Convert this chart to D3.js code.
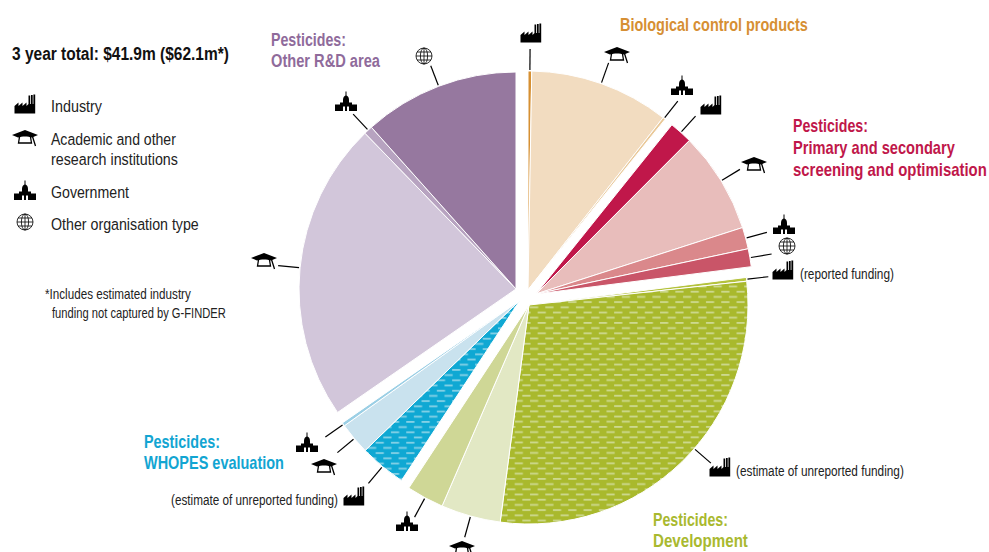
<!DOCTYPE html>
<html><head><meta charset="utf-8">
<script src="https://cdn.jsdelivr.net/npm/d3@7"></script>
<style>html,body{margin:0;padding:0;background:#fff}svg{display:block}text{font-family:"Liberation Sans",sans-serif}</style>
</head><body><svg id="c" width="989" height="552"></svg>
<script>
// Funding by R&D area and organisation type, US$m (the three-year total is 62.1)
const groupNames = ["Biological control products","Primary and secondary screening and optimisation","Development","WHOPES evaluation","Other R&D area"];
const organisationTypes = ["industry","academic","government","other"];
const bioValues = [0.17, 6.40, 0.12];
const screeningValues = [1.07, 4.69, 1.00, 0.83];
const developmentValues = [0.17, 17.91, 2.73, 1.71];
const whopesValues = [2.16, 1.48, 0.16];
const otherRdValues = [13.90, 0.40, 7.21];
const bioTypes = ["industry","academic","government"];
const screeningTypes = ["industry","academic","government","other"];
const developmentTypes = ["industry","industry","academic","government"];
const whopesTypes = ["industry","academic","government"];
const otherRdTypes = ["academic","government","other"];
const legendLabels = [["Industry"],["Academic and other","research institutions"],["Government"],["Other organisation type"]];

const svg = d3.select("#c");
const defs = svg.append("defs");
function stripes(id,bg,fg){
  const p = defs.append("pattern").attr("id",id).attr("patternUnits","userSpaceOnUse").attr("width",15.3).attr("height",10.4);
  p.append("rect").attr("width",15.3).attr("height",10.4).attr("fill",bg);
  p.append("rect").attr("x",1).attr("y",1.4).attr("width",8.2).attr("height",1.8).attr("fill",fg);
  p.append("rect").attr("x",8.65).attr("y",6.6).attr("width",8.2).attr("height",1.8).attr("fill",fg);
  p.append("rect").attr("x",-6.65).attr("y",6.6).attr("width",8.2).attr("height",1.8).attr("fill",fg);
}
stripes("sg","#a9b92d","#cdd98f");
stripes("sb","#0fa8d3","#85d1e6");

const radii = [219,217,219,216,217];
const pie = d3.pie().sort(null).value(d=>d);
const groupsData = [bioValues,screeningValues,developmentValues,whopesValues,otherRdValues];
const typesData = [bioTypes,screeningTypes,developmentTypes,whopesTypes,otherRdTypes];
const all = pie(groupsData.flat());
const apex = [[528,290],[536,294],[529,305],[520,300],[516,289]];
const fills = [
  ["#d69033","#f2dcc0","#e9c898"],
  ["#c0174a","#e8bdbb","#da888b","#c95568"],
  ["#b4c23c","url(#sg)","#e2e8c4","#cfd796"],
  ["url(#sb)","#c9e2ee","#9bcfe5"],
  ["#d2c6da","#b7a3c0","#96789f"]
];
const iconAt = [
  [[531,34],[617,55],[682,86]],
  [[711,106],[754,165],[784,225],[787,246]],
  [[783,271],[720,468],[462,549],[407,522]],
  [[354,497],[324,467],[307,443]],
  [[264,261],[346,102],[424,56]]
];
// leader direction override where the line does not leave the slice at its middle
const leaderAngleDeg = {"2-1":131};
let k = 0;
const layers = [];
groupsData.forEach((vals,g)=>{
  const arc = d3.arc().innerRadius(0).outerRadius(radii[g]);
  const grp = svg.append("g").attr("transform",`translate(${apex[g]})`);
  vals.forEach((v,i)=>{
    const d = all[k++];
    grp.append("path").attr("d",arc(d)).attr("fill",fills[g][i]).attr("stroke","#fff").attr("stroke-width",1);
    layers.push({g,i,d,type:typesData[g][i]});
  });
});
const icons = {
 industry:(s)=>{ s.append("path").attr("d","M-10.5,8.5V1L-6.5,-2.5V1L-2.5,-2.5V1L1.5,-2.5V1L3.5,-1V-9.5H5.2V-1H6V-10H7.7V-1H8.4V-10.5H10.2V8.5Z").attr("fill","#000"); },
 academic:(s)=>{
  s.append("path").attr("d","M0,-8L13,-3L7,-0.5C3,-2 -3,-2 -7,-0.5L-13,-3Z").attr("fill","#000");
  s.append("path").attr("d","M-5.5,-1L-6.5,5H6.5L5.5,-1M7.5,-1.5L10.5,8").attr("fill","none").attr("stroke","#000").attr("stroke-width",1.3);
 },
 government:(s)=>{ s.append("path").attr("d","M-11,9V2.5H-6V0.5H-3V-2C-3,-5 -1.5,-6 -0.5,-6.5V-10.5H0.5V-6.5C1.5,-6 3,-5 3,-2V0.5H6V2.5H11V9H3V4.5H1V9H-1V4.5H-3V9Z").attr("fill","#000"); },
 other:(s)=>{
  s.attr("fill","none").attr("stroke","#000").attr("stroke-width",0.8);
  s.append("circle").attr("r",8);
  s.append("ellipse").attr("rx",3.6).attr("ry",8);
  s.append("path").attr("d","M0,-8V8M-8,0H8M-7,-4H7M-7,4H7");
 }
};
function icon(type,x,y){ const s = svg.append("g").attr("transform",`translate(${x},${y})`); icons[type](s); }
layers.forEach(l=>{
  const key = l.g+"-"+l.i;
  const a = key in leaderAngleDeg ? leaderAngleDeg[key]*Math.PI/180 : (l.d.startAngle+l.d.endAngle)/2;
  const sx=Math.sin(a), sy=-Math.cos(a), R=radii[l.g];
  const [ax,ay] = apex[l.g];
  svg.append("line").attr("x1",ax+sx*(R+1)).attr("y1",ay+sy*(R+1)).attr("x2",ax+sx*(R+22)).attr("y2",ay+sy*(R+22))
    .attr("stroke","#000").attr("stroke-width",1.2);
  icon(l.type,iconAt[l.g][l.i][0],iconAt[l.g][l.i][1]);
});
// text is fitted horizontally to the width measured in the reference
function label(str,x,x2,y,size,weight,color){
  const t = svg.append("text").attr("font-size",size).attr("font-weight",weight).attr("fill",color).text(str);
  const w = t.node().getComputedTextLength();
  t.attr("transform",`translate(${x},${y}) scale(${(x2-x)/w},1)`);
}
label("3 year total: $41.9m ($62.1m*)",12,229,60,18,700,"#111");
const legendIcons=[[25,105],[25,138],[25,191],[25,222]];
organisationTypes.forEach((t,i)=>icon(t,legendIcons[i][0],legendIcons[i][1]));
label(legendLabels[0][0],51,102,112,17,400,"#222");
label(legendLabels[1][0],51,176,145,17,400,"#222");
label(legendLabels[1][1],51,178,165,17,400,"#222");
label(legendLabels[2][0],51,129,198,17,400,"#222");
label(legendLabels[3][0],51,199,230,17,400,"#222");
label("*Includes estimated industry",45,191,299,14,400,"#222");
label("funding not captured by G-FINDER",52,226,318,14,400,"#222");
const cP="#8f6b9b",cB="#d68f33",cR="#c0174a",cG="#a9b92f",cW="#12a5d2";
label("Pesticides:",271,346,46,18,700,cP);
label("Other R&D area",271,380,67,18,700,cP);
label(groupNames[0],620,808,31,18,700,cB);
label("Pesticides:",793,868,132,18,700,cR);
label("Primary and secondary",793,955,154,18,700,cR);
label("screening and optimisation",793,987,176,18,700,cR);
label("(reported funding)",800,894,279,15,400,"#222");
label("(estimate of unreported funding)",736,904,476,15,400,"#222");
label("(estimate of unreported funding)",171,338,505,15,400,"#222");
label("Pesticides:",144,220,448,18,700,cW);
label(groupNames[3],144,284,469,18,700,cW);
label("Pesticides:",653,728,526,18,700,cG);
label(groupNames[2],653,748,547,18,700,cG);
</script></body></html>
